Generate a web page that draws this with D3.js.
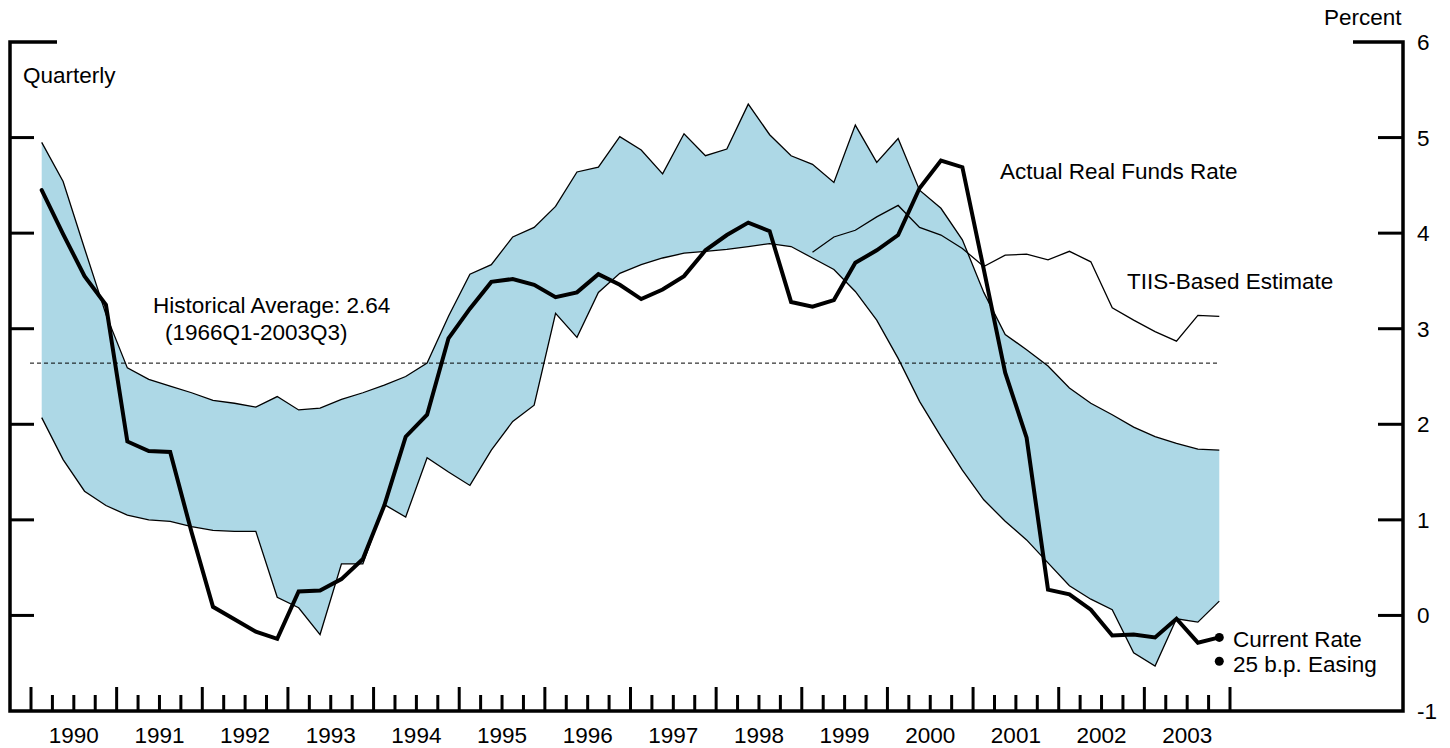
<!DOCTYPE html>
<html>
<head>
<meta charset="utf-8">
<script src="https://cdn.jsdelivr.net/npm/d3@7"></script>
<style>
  body { margin: 0; background: #fff; }
  text { font-family: "Liberation Sans", Arial, sans-serif; font-size: 22.5px; fill: #000; }
</style>
</head>
<body>
<div id="container"></div>
<script>
// year labels (quarterly data, 1990Q1 - 2003Q4)
const years = [1990, 1991, 1992, 1993, 1994, 1995, 1996, 1997, 1998, 1999, 2000, 2001, 2002, 2003];
const quarters = years.flatMap(y => [1, 2, 3, 4].map(q => y + 'Q' + q));

// range of estimates (shaded band)
const bandUpper = [4.95, 4.54, 3.84, 3.15, 2.59, 2.47, 2.40, 2.33, 2.25, 2.22, 2.18, 2.29, 2.15, 2.17,
                   2.26, 2.33, 2.41, 2.50, 2.64, 3.13, 3.57, 3.67, 3.96, 4.06, 4.28, 4.64, 4.69, 5.01,
                   4.87, 4.62, 5.04, 4.81, 4.88, 5.35, 5.03, 4.81, 4.72, 4.53, 5.13, 4.74, 4.99, 4.45,
                   4.26, 3.93, 3.38, 2.94, 2.78, 2.61, 2.38, 2.22, 2.10, 1.97, 1.87, 1.80, 1.74, 1.73];
const bandLower = [2.07, 1.63, 1.30, 1.15, 1.05, 1.00, 0.985, 0.93, 0.89, 0.88, 0.88, 0.19, 0.08, -0.20,
                   0.54, 0.54, 1.16, 1.03, 1.65, 1.50, 1.36, 1.73, 2.03, 2.20, 3.16, 2.91, 3.38, 3.58,
                   3.67, 3.74, 3.79, 3.81, 3.83, 3.86, 3.89, 3.86, 3.74, 3.62, 3.39, 3.09, 2.69, 2.24,
                   1.87, 1.52, 1.21, 0.985, 0.79, 0.55, 0.31, 0.17, 0.06, -0.39, -0.53, -0.035, -0.07, 0.15];

// actual real funds rate
const actualRate = [4.45, 3.99, 3.55, 3.25, 1.82, 1.72, 1.71, 0.87, 0.09, -0.04, -0.17, -0.245, 0.25, 0.26,
                    0.38, 0.59, 1.15, 1.87, 2.10, 2.90, 3.21, 3.49, 3.52, 3.46, 3.33, 3.38, 3.57, 3.46,
                    3.31, 3.41, 3.55, 3.82, 3.98, 4.11, 4.02, 3.28, 3.23, 3.30, 3.69, 3.82, 3.98, 4.47,
                    4.76, 4.69, 3.62, 2.54, 1.86, 0.27, 0.22, 0.06, -0.21, -0.20, -0.23, -0.035, -0.285, -0.23];

// TIIS-based estimate, starts 1999Q1
const tiisEstimate = [null, null, null, null, null, null, null, null, null, null, null, null, null, null,
                      null, null, null, null, null, null, null, null, null, null, null, null, null, null,
                      null, null, null, null, null, null, null, null, 3.80, 3.96, 4.03, 4.17, 4.29, 4.06,
                      3.98, 3.84, 3.65, 3.77, 3.78, 3.72, 3.81, 3.70, 3.22, 3.09, 2.97, 2.87, 3.14, 3.13];

const histAverage = 2.64;
const currentRate = -0.23;
const easingRate = -0.48;
const yTicks = [-1, 0, 1, 2, 3, 4, 5, 6];

const width = 1450;
const height = 748;

const svg = d3.select('#container')
              .append('svg')
              .attr('width', width)
              .attr('height', height);

const x = d3.scaleLinear().domain([years[0], years[years.length - 1] + 1]).range([31, 1230]);
const y = d3.scaleLinear().domain([-1, 6]).range([711, 42]);
const xq = i => x(years[0] + (i + 0.5) / 4);

const leftX = 10;
const rightX = 1403;

// band
const area = d3.area()
               .x((d, i) => xq(i))
               .y0((d, i) => y(bandLower[i]))
               .y1((d, i) => y(bandUpper[i]));
svg.append('path')
   .datum(quarters)
   .attr('d', area)
   .attr('fill', '#add8e6');

const thinLine = vals => d3.line()
                           .defined(d => d != null)
                           .x((d, i) => xq(i))
                           .y(d => y(d))(vals);

[bandUpper, bandLower].forEach(vals => {
    svg.append('path')
       .attr('d', thinLine(vals))
       .attr('fill', 'none')
       .attr('stroke', '#000')
       .attr('stroke-width', 1.3);
});

// historical average
svg.append('line')
   .attr('x1', x(years[0]) - 1)
   .attr('x2', xq(quarters.length - 1))
   .attr('y1', y(histAverage))
   .attr('y2', y(histAverage))
   .attr('stroke', '#000')
   .attr('stroke-width', 1)
   .attr('stroke-dasharray', '4,3');

// TIIS
svg.append('path')
   .attr('d', thinLine(tiisEstimate))
   .attr('fill', 'none')
   .attr('stroke', '#000')
   .attr('stroke-width', 1.3);

// actual
svg.append('path')
   .attr('d', thinLine(actualRate))
   .attr('fill', 'none')
   .attr('stroke', '#000')
   .attr('stroke-width', 4)
   .attr('stroke-linecap', 'round');

// dots
[currentRate, easingRate].forEach(v => {
    svg.append('circle')
       .attr('cx', xq(quarters.length - 1))
       .attr('cy', y(v))
       .attr('r', 4.5)
       .attr('fill', '#000');
});

// axes frame
const axis = svg.append('g').attr('stroke', '#000').attr('fill', 'none');
axis.append('path')
    .attr('d', `M${leftX + 47},${y(6)}H${leftX}V${y(-1)}H${rightX}V${y(6)}H${rightX - 50}`)
    .attr('stroke-width', 3.5)
    .attr('stroke-linejoin', 'miter');

axis.selectAll('.ly')
    .data(yTicks.filter(t => t > -1 && t < 6))
    .enter()
    .append('line')
    .attr('x1', leftX)
    .attr('x2', leftX + 24)
    .attr('y1', d => y(d))
    .attr('y2', d => y(d))
    .attr('stroke-width', 3);

axis.selectAll('.ry')
    .data(yTicks.filter(t => t > -1 && t < 6))
    .enter()
    .append('line')
    .attr('x1', rightX)
    .attr('x2', rightX - 25)
    .attr('y1', d => y(d))
    .attr('y2', d => y(d))
    .attr('stroke-width', 3);

svg.selectAll('.ylab')
   .data(yTicks)
   .enter()
   .append('text')
   .attr('x', rightX + 14)
   .attr('y', d => y(d) + 8)
   .text(d => d);

// x ticks
const xTicks = d3.range(0, years.length * 4 + 1);
axis.selectAll('.xt')
    .data(xTicks)
    .enter()
    .append('line')
    .attr('x1', d => x(years[0] + d / 4))
    .attr('x2', d => x(years[0] + d / 4))
    .attr('y1', y(-1))
    .attr('y2', d => d % 4 === 0 ? y(-1) - 24 : y(-1) - 16)
    .attr('stroke-width', 3);

svg.selectAll('.xlab')
   .data(years)
   .enter()
   .append('text')
   .attr('x', d => x(d + 0.5))
   .attr('y', 743)
   .attr('text-anchor', 'middle')
   .text(d => d);

// labels
const labels = [
    { t: 'Quarterly', x: 23, y: 83 },
    { t: 'Percent', x: 1324, y: 25 },
    { t: 'Actual Real Funds Rate', x: 1000, y: 179 },
    { t: 'TIIS-Based Estimate', x: 1127, y: 289 },
    { t: 'Historical Average: 2.64', x: 153, y: 313 },
    { t: '(1966Q1-2003Q3)', x: 165, y: 340 },
    { t: 'Current Rate', x: 1233, y: 647 },
    { t: '25 b.p. Easing', x: 1233, y: 672 }
];
svg.selectAll('.lab')
   .data(labels)
   .enter()
   .append('text')
   .attr('x', d => d.x)
   .attr('y', d => d.y)
   .text(d => d.t);
</script>
</body>
</html>
